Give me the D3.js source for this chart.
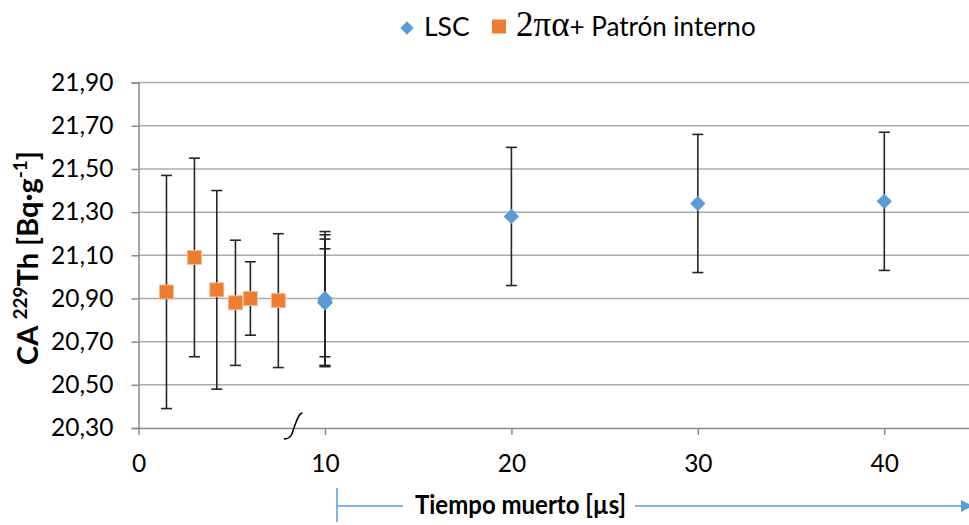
<!DOCTYPE html>
<html>
<head>
<meta charset="utf-8">
<script src="https://cdn.jsdelivr.net/npm/d3@7"></script>
<style>
  html, body { margin: 0; padding: 0; background: #ffffff; }
  svg { display: block; }
  text { font-family: Lato, "Open Sans", sans-serif; fill: #000; }
</style>
</head>
<body>
<script>
// Dead-time study: activity concentration of Th-229 for two methods
const lscX = [10, 10, 10, 10, 20, 30, 40];
const lscY = [20.90, 20.89, 20.88, 20.88, 21.28, 21.34, 21.35];
const lscErr = [0.31, 0.305, 0.295, 0.25, 0.32, 0.32, 0.32];

const alphaX = [1.5, 3, 4.2, 5.2, 6, 7.5];
const alphaY = [20.93, 21.09, 20.94, 20.88, 20.90, 20.89];
const alphaErr = [0.54, 0.46, 0.46, 0.29, 0.17, 0.31];

const yTicks = [20.30, 20.50, 20.70, 20.90, 21.10, 21.30, 21.50, 21.70, 21.90];
const xTicks = [0, 10, 20, 30, 40];
const xMax = 45;

const W = 969, H = 525;
const plotLeft = 138.5, plotTop = 82.6, plotBottom = 428;

const svg = d3.select("body").append("svg")
  .attr("width", W).attr("height", H);

const x = d3.scaleLinear().domain([0, xMax]).range([plotLeft, plotLeft + xMax * 18.645]);
const y = d3.scaleLinear().domain([20.30, 21.90]).range([plotBottom, plotTop]);

const fmt = v => v.toFixed(2).replace(".", ",");

// horizontal gridlines
svg.append("g")
  .selectAll("line")
  .data(yTicks.filter(t => t > 20.30))
  .join("line")
  .attr("x1", plotLeft).attr("x2", W)
  .attr("y1", d => y(d)).attr("y2", d => y(d))
  .attr("stroke", "#ababab").attr("stroke-width", 1.5);

// y axis
const yAxis = svg.append("g")
  .attr("transform", `translate(${plotLeft},0)`)
  .call(d3.axisLeft(y).tickValues(yTicks).tickFormat(fmt).tickSize(7).tickPadding(18));
yAxis.select(".domain").attr("stroke", "#8a8a8a").attr("stroke-width", 1.5);
yAxis.selectAll(".tick line").attr("stroke", "#8a8a8a").attr("stroke-width", 1.5);
yAxis.selectAll(".tick text")
  .attr("font-family", "Lato, sans-serif").attr("font-size", 24.5).attr("fill", "#000");

// x axis
const xAxis = svg.append("g")
  .attr("transform", `translate(0,${plotBottom})`)
  .call(d3.axisBottom(x).tickValues(xTicks).tickSize(7).tickPadding(20).tickSizeOuter(0));
xAxis.select(".domain").attr("stroke", "#8a8a8a").attr("stroke-width", 1.5);
xAxis.selectAll(".tick line").attr("stroke", "#8a8a8a").attr("stroke-width", 1.5);
xAxis.selectAll(".tick text")
  .attr("font-family", "Lato, sans-serif").attr("font-size", 24.5).attr("fill", "#000");

// axis break mark
svg.append("path")
  .attr("d", `M${x(7.8)},${plotBottom + 11} C${x(8.25)},${plotBottom + 11} ${x(8.25)},${plotBottom + 4} ${x(8.35)},${plotBottom - 1}
              C${x(8.5)},${plotBottom - 8} ${x(8.6)},${plotBottom - 15} ${x(8.8)},${plotBottom - 15}`)
  .attr("fill", "none").attr("stroke", "#000").attr("stroke-width", 1.5);

// error bars
function errorBars(xs, ys, es) {
  const g = svg.append("g").attr("stroke", "#262626").attr("stroke-width", 1.6);
  xs.forEach((xv, i) => {
    const cx = x(xv), y1 = y(ys[i] + es[i]), y0 = y(ys[i] - es[i]);
    g.append("line").attr("x1", cx).attr("x2", cx).attr("y1", y1).attr("y2", y0);
    g.append("line").attr("x1", cx - 5.5).attr("x2", cx + 5.5).attr("y1", y1).attr("y2", y1);
    g.append("line").attr("x1", cx - 5.5).attr("x2", cx + 5.5).attr("y1", y0).attr("y2", y0);
  });
}
errorBars(lscX, lscY, lscErr);
errorBars(alphaX, alphaY, alphaErr);

// markers
const diamond = d3.symbol().type(d3.symbolDiamond2).size(150);
const square = d3.symbol().type(d3.symbolSquare).size(196);

svg.append("g").selectAll("path")
  .data(alphaX.map((v, i) => [v, alphaY[i]]))
  .join("path")
  .attr("d", square)
  .attr("transform", d => `translate(${x(d[0])},${y(d[1])})`)
  .attr("fill", "#ED7D31").attr("stroke", "#F6B98F").attr("stroke-width", 1);

svg.append("g").selectAll("path")
  .data(lscX.map((v, i) => [v, lscY[i]]))
  .join("path")
  .attr("d", diamond)
  .attr("transform", d => `translate(${x(d[0])},${y(d[1])})`)
  .attr("fill", "#5B9BD5");

// legend
const lg = svg.append("g");
lg.append("path").attr("d", d3.symbol().type(d3.symbolDiamond2).size(112))
  .attr("transform", "translate(407,28)").attr("fill", "#5B9BD5");
lg.append("text").attr("x", 424).attr("y", 36).attr("font-size", 26.5).text("LSC");
lg.append("rect").attr("x", 492).attr("y", 19.5).attr("width", 14).attr("height", 14)
  .attr("fill", "#ED7D31");
const lt = lg.append("text").attr("x", 516).attr("y", 36);
lt.append("tspan").attr("font-family", "'Liberation Serif', serif").attr("font-size", 35).text("2πα");
lt.append("tspan").attr("font-size", 26).text("+ Patrón interno");

// y axis title
const yt = svg.append("text")
  .attr("transform", "translate(38,258) rotate(-90)")
  .attr("text-anchor", "middle")
  .attr("font-weight", "bold").attr("font-size", 29);
yt.append("tspan").text("CA ");
yt.append("tspan").attr("font-size", 19).attr("dy", -11).text("229");
yt.append("tspan").attr("dy", 11).text("Th [Bq·g");
yt.append("tspan").attr("font-size", 19).attr("dy", -11).text("-1");
yt.append("tspan").attr("dy", 11).text("]");

// x axis title with direction arrow
const blue = "#5B9BD5";
const ay = 506;
svg.append("line").attr("x1", 337).attr("x2", 337).attr("y1", 488).attr("y2", 522)
  .attr("stroke", blue).attr("stroke-width", 1.5);
svg.append("line").attr("x1", 337).attr("x2", 403).attr("y1", ay).attr("y2", ay)
  .attr("stroke", blue).attr("stroke-width", 1.5);
svg.append("text").attr("x", 415).attr("y", 514)
  .attr("font-weight", "bold").attr("font-size", 26)
  .attr("textLength", 211).attr("lengthAdjust", "spacingAndGlyphs")
  .text("Tiempo muerto [µs]");
svg.append("line").attr("x1", 635).attr("x2", 962).attr("y1", ay).attr("y2", ay)
  .attr("stroke", blue).attr("stroke-width", 1.5);
svg.append("path").attr("d", `M961,${ay - 6} L973,${ay} L961,${ay + 6} Z`).attr("fill", blue);
</script>
</body>
</html>
